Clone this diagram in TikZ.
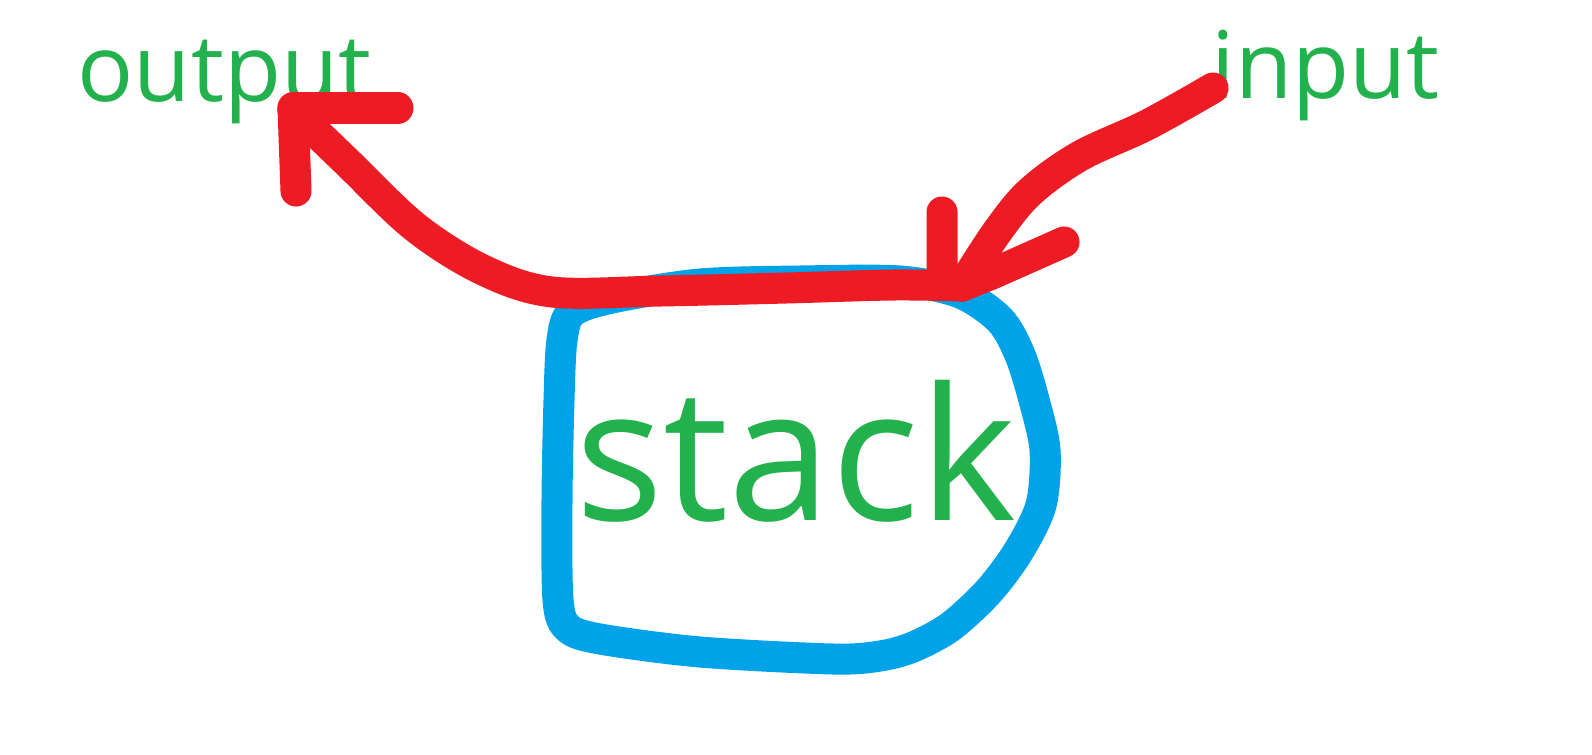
\documentclass[tikz,border=0pt]{standalone}
\usepackage{fontspec}
\setmainfont{Open Sans}
\definecolor{pgreen}{HTML}{22B14C}
\definecolor{pred}{HTML}{ED1C24}
\definecolor{pblue}{HTML}{00A2E8}
\begin{document}
\begin{tikzpicture}[x=0.01cm,y=-0.01cm,
  lbl/.style={text=pgreen,inner sep=0pt,anchor=base west},
  blueline/.style={draw=pblue,line width=0.31cm,line cap=round,line join=round},
  redline/.style={draw=pred,line width=0.31cm,line cap=round,line join=round}]
\useasboundingbox (0,0) rectangle (1592,754);
\fill[white] (0,0) rectangle (1592,754);
% blue loop
\draw[blueline] plot[smooth cycle,tension=0.5] coordinates {
 (559,400) (562,340) (572,312) (612,298) (700,284) (800,281) (900,281)
 (960,293) (1000,320) (1020,355) (1034,400) (1045,450) (1041,505)
 (1018,552) (988,592) (950,627) (913,647) (880,656) (833,659) (700,652)
 (600,639) (568,628) (558,600) (557,500)};
% texts
\node[lbl,font=\fontsize{26.5}{30}\selectfont] (out) at (77,101) {output};
\node[lbl,font=\fontsize{26.5}{30}\selectfont] (in) at (1211,98) {input};
\node[lbl,font=\fontsize{52.5}{60}\selectfont] (st) at (575,520) {stack};
% red output curve
\coordinate (otip) at (293,108);
\coordinate (join) at (962,286);
\draw[redline] plot[smooth,tension=0.55] coordinates {
 (293,110) (347,162) (415,227) (483,270) (552,292) (660,291) (786,288) (893,285) (962,286)};
\draw[redline] (otip) -- (398,108);
\draw[redline] (otip) -- (296,191);
% red input curve
\draw[redline] plot[smooth,tension=0.55] coordinates {
 (1213,88) (1147,125) (1080,156) (1030,192) (997,232) (962,286)};
\draw[redline] (942,212) -- (942,274) -- (join);
\draw[redline] (1064,242) -- (992,274) -- (join);
\end{tikzpicture}
\end{document}
